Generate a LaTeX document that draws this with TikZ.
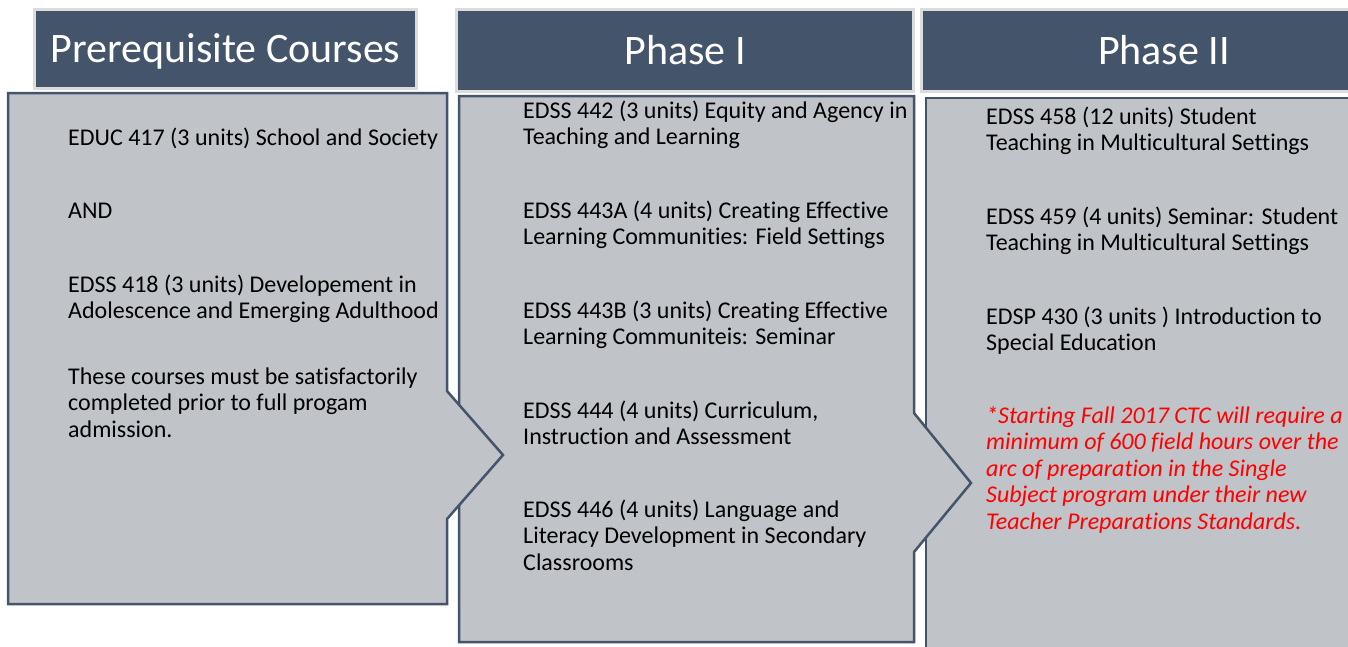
\documentclass[tikz,border=0pt]{standalone}
\usepackage{fontspec}
\setmainfont{Carlito}[Ligatures={NoCommon}]
\usetikzlibrary{positioning}
\definecolor{hdrColor}{HTML}{44546A}
\definecolor{rimColor}{HTML}{DCDCDC}
\definecolor{boxColor}{HTML}{C0C3C8}
\definecolor{noteColor}{HTML}{FF0000}
\tikzset{
	head/.style={draw=rimColor, line width=3pt, fill=hdrColor, text=white,
		font=\fontsize{42}{50}\selectfont, text height=27pt, text depth=0pt, inner sep=0pt},
	phase/.style={draw=hdrColor, line width=2.5pt, fill=boxColor, line join=miter},
	% base of a multi-line node = baseline of its last line
	course/.style={anchor=base west, inner sep=0pt, align=left,
		font=\fontsize{24}{26.5}\selectfont},
	note/.style={course, text=noteColor, font=\fontsize{24}{26.5}\selectfont\itshape}
}

\begin{document}
\begin{tikzpicture}[x=1pt, y=-1pt]
	\useasboundingbox (0,0) rectangle (1348,646);
	\clip (0,0) rectangle (1348,646);
	\fill[white] (0,0) rectangle (1348,646);
	% bodies, back to front
	\draw[phase] (926,98) rectangle (1420,700);
	\draw[phase] (459,96) -- (914,96) -- (914,413) -- (971,483) -- (914,552) -- (914,642) -- (459,642) -- cycle;
	\draw[phase] (8,93) -- (447,93) -- (447,391) -- (503,455) -- (447,519) -- (447,604) -- (8,604) -- cycle;
	% headers
	\node[head, minimum width=382pt, minimum height=79pt] (pre) at (225.5,49) {Prerequisite Courses};
	\node[head, minimum width=457pt, minimum height=82pt] (ph1) at (685,50.5) {Phase I};
	\node[head, minimum width=485pt, minimum height=82pt] (ph2) at (1164,50.5) {Phase II};
	% prerequisite courses
	\node[course] (educ417) at (68,145) {EDUC 417 (3 units) School and Society};
	\node[course] (and) at (68,218) {AND};
	\node[course] (edss418) at (68,318.5) {EDSS 418 (3 units) Developement in\\Adolescence and Emerging Adulthood};
	\node[course] (prior) at (68,437) {These courses must be satisfactorily\\completed prior to full progam\\admission.};
	% phase I
	\node[course] (edss442) at (523,144.5) {EDSS 442 (3 units) Equity and Agency in\\Teaching and Learning};
	\node[course] (edss443a) at (523,244.5) {EDSS 443A (4 units) Creating Effective\\Learning Communities: Field Settings};
	\node[course] (edss443b) at (523,344.5) {EDSS 443B (3 units) Creating Effective\\Learning Communiteis: Seminar};
	\node[course] (edss444) at (523,444.5) {EDSS 444 (4 units) Curriculum,\\Instruction and Assessment};
	\node[course] (edss446) at (523,570) {EDSS 446 (4 units) Language and\\Literacy Development in Secondary\\Classrooms};
	% phase II
	\node[course] (edss458) at (986,150.5) {EDSS 458 (12 units) Student\\Teaching in Multicultural Settings};
	\node[course] (edss459) at (986,250.5) {EDSS 459 (4 units) Seminar: Student\\Teaching in Multicultural Settings};
	\node[course] (edsp430) at (986,350.5) {EDSP 430 (3 units ) Introduction to\\Special Education};
	\node[note] (ctc) at (986,529) {*Starting Fall 2017 CTC will require a\\minimum of 600 field hours over the\\arc of preparation in the Single\\Subject program under their new\\Teacher Preparations Standards.};
\end{tikzpicture}
\end{document}
